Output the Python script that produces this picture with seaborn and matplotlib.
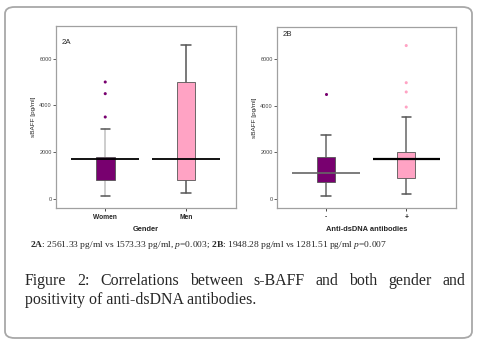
import numpy as np
import pandas as pd
import matplotlib
matplotlib.use('Agg')
import matplotlib.pyplot as plt
import seaborn as sns
from matplotlib.patches import FancyBboxPatch

# summary values (pg/ml)
groups_a = ['Women', 'Men']
groups_b = ['-', '+']
whislo_a = [100, 250]
q1_a = [800, 800]
q3_a = [1800, 5000]
whishi_a = [3000, 6600]
line_a = [1710, 1710]
whislo_b = [100, 200]
q1_b = [700, 900]
q3_b = [1800, 2000]
whishi_b = [2750, 3500]
line_b = [1100, 1710]
outliers_a = {'Women': [3500, 4500, 5000], 'Men': []}
outliers_b = {'-': [4500], '+': [3950, 4600, 5000, 6600]}

purple = '#78006f'
pink = '#ffa3c4'

sns.set_style('white')
plt.rcParams['font.family'] = ['Liberation Sans', 'DejaVu Sans']
plt.rcParams['mathtext.fontset'] = 'custom'
plt.rcParams['mathtext.rm'] = 'Liberation Serif'
plt.rcParams['mathtext.bf'] = 'Liberation Serif:bold'
plt.rcParams['mathtext.it'] = 'Liberation Serif:italic'

fig = plt.figure(figsize=(4.8, 3.42), dpi=100)
W, H = 480, 342
ax_a = fig.add_axes([56 / W, 1 - 208 / H, 180 / W, 182 / H])
ax_b = fig.add_axes([277 / W, 1 - 208 / H, 179 / W, 181 / H])


def panel(ax, groups, whislo, q1, q3, whishi, line, outl, label, xlabel,
          whisk_cols, line_cols, line_w, lab_y):
    rows = [(g, v) for g in groups for v in outl[g]]
    df = pd.DataFrame(rows, columns=['grp', 'val'])
    sns.stripplot(data=df, x='grp', y='val', hue='grp', order=groups,
                  hue_order=groups, palette=[purple, pink], jitter=False,
                  size=2.2, linewidth=0, legend=False, ax=ax)
    stats = []
    for i, g in enumerate(groups):
        stats.append(dict(med=line[i], q1=q1[i], q3=q3[i], whislo=whislo[i],
                          whishi=whishi[i], fliers=[]))
    bp = ax.bxp(stats, positions=range(len(groups)), widths=0.23,
                patch_artist=True, showfliers=False, manage_ticks=False)
    for i, box in enumerate(bp['boxes']):
        box.set_facecolor([purple, pink][i])
        box.set_edgecolor('#555555')
        box.set_linewidth(0.6)
        box.set_zorder(2)
    for i, wl in enumerate(bp['whiskers']):
        wl.set_color(whisk_cols[i // 2])
        wl.set_linewidth(1.1)
        wl.set_zorder(1)
    for c in bp['caps']:
        c.set_color('#555555')
        c.set_linewidth(1.1)
    for m in bp['medians']:
        m.set_visible(False)
    for i in range(len(groups)):
        ax.hlines(line[i], i - 0.42, i + 0.42, color=line_cols[i],
                  lw=line_w[i], zorder=3)
    ax.set_xlim(-0.61, 1.62)
    ax.set_ylim(-400, 7400)
    ax.set_yticks([0, 2000, 4000, 6000])
    ax.set_xticks(range(len(groups)))
    ax.set_xticklabels(groups, fontsize=4.8, fontweight='bold')
    ax.tick_params(axis='y', labelsize=4, length=2.5, width=0.6,
                   colors='#444444', pad=0.5, left=True)
    ax.tick_params(axis='x', length=2.5, width=0.6, pad=1.5, bottom=True)
    ax.set_ylabel('sBAFF [pg/ml]', fontsize=4.6, labelpad=2)
    ax.set_xlabel(xlabel, fontsize=5.4, fontweight='bold', labelpad=4)
    for s in ax.spines.values():
        s.set_color('#a0a0a0')
        s.set_linewidth(0.9)
    ax.text(0.03, lab_y, label, transform=ax.transAxes, fontsize=5.6,
            va='center', ha='left')


panel(ax_a, groups_a, whislo_a, q1_a, q3_a, whishi_a, line_a, outliers_a,
      '2A', 'Gender', ['#c0c0c0', '#555555'], ['black', 'black'], [1.3, 1.3],
      0.91)
panel(ax_b, groups_b, whislo_b, q1_b, q3_b, whishi_b, line_b, outliers_b,
      '2B', 'Anti-dsDNA antibodies', ['#666666', '#666666'],
      ['#666666', 'black'], [1.2, 1.6], 0.96)

# outer rounded frame
frame = FancyBboxPatch((5 / W, 4 / H), 467 / W, 331 / H,
                       boxstyle='round,pad=0,rounding_size=0.02',
                       transform=fig.transFigure, fill=False,
                       edgecolor='#a8a8a8', lw=1.3, zorder=-1)
fig.patches.append(frame)

serif = ['Liberation Serif', 'DejaVu Serif']
small = (r'$\mathbf{2A}$: 2561.33 pg/ml vs 1573.33 pg/ml, $p$=0.003; '
         r'$\mathbf{2B}$: 1948.28 pg/ml vs 1281.51 pg/ml $p$=0.007')
fig.text(30 / W, 1 - 247 / H, small, fontsize=6.8, family=serif,
         va='baseline', ha='left')

renderer = fig.canvas.get_renderer()


def justified(words, y, x0, x1, fs):
    ts = [fig.text(0, 1 - y / H, w, fontsize=fs, family=serif,
                   va='baseline', ha='left') for w in words]
    widths = [t.get_window_extent(renderer).width for t in ts]
    gap = (x1 - x0 - sum(widths)) / (len(words) - 1)
    xx = x0
    for t, w in zip(ts, widths):
        t.set_x(xx / W)
        xx += w + gap


justified('Figure 2: Correlations between s-BAFF and both gender and'.split(),
          285, 25, 465, 11.4)
fig.text(25 / W, 1 - 304 / H, 'positivity of anti-dsDNA antibodies.',
         fontsize=11.4, family=serif, va='baseline', ha='left')

fig.savefig('out.png', dpi=100)
